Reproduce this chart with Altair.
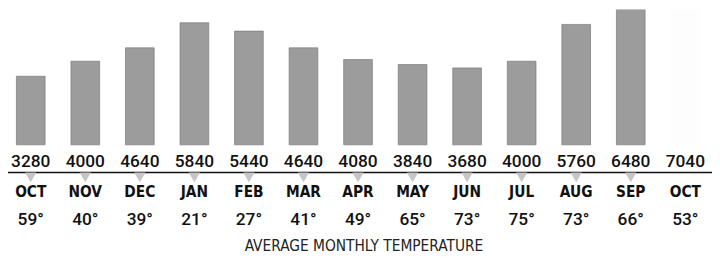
import altair as alt
import pandas as pd

months = ["OCT", "NOV", "DEC", "JAN", "FEB", "MAR", "APR", "MAY", "JUN", "JUL", "AUG", "SEP", "OCT"]
values = [3280, 4000, 4640, 5840, 5440, 4640, 4080, 3840, 3680, 4000, 5760, 6480, 7040]
temps = [59, 40, 39, 21, 27, 41, 49, 65, 73, 75, 73, 66, 53]
title_text = "AVERAGE MONTHLY TEMPERATURE"

df = pd.DataFrame({
    "idx": list(range(len(months))),
    "month": months,
    "value": values,
    "vlabel": [str(v) for v in values],
    "tlabel": [f"{t}°" for t in temps],
})

NUM_FONT = "Roboto"
NARROW = "DejaVu Sans Condensed, sans-serif"

x = alt.X("idx:Q", scale=alt.Scale(domain=[0, 12], range=[18, 690]), axis=None)

base = alt.Chart(df)

bars = base.mark_bar(width=29, fill="#9c9c9c", stroke="#7a7a7a", strokeWidth=0.7, clip=True).encode(
    x=x,
    y=alt.Y("value:Q", scale=alt.Scale(domain=[0, 6480], range=[137, 0]), axis=None),
    y2=alt.datum(0),
    opacity=alt.condition("datum.idx == 12", alt.value(0.025), alt.value(1)),
)

vals = base.mark_text(font=NUM_FONT, fontSize=17.5, fontWeight=500, color="#111", baseline="middle").encode(
    x=x, y=alt.value(154), text="vlabel:N"
)

line = alt.Chart(pd.DataFrame({"a": [0]})).mark_rule(color="#111", strokeWidth=1.6).encode(
    x=alt.value(0), x2=alt.value(712), y=alt.value(165)
)

tris = base.transform_filter("datum.idx < 12").mark_point(
    shape="triangle-down", filled=True, size=130, color="#c6c6c6", opacity=1
).encode(x=x, y=alt.value(170))

mons = base.mark_text(font=NARROW, fontSize=15.5, fontWeight="bold", color="#111", baseline="middle").encode(
    x=x, y=alt.value(185), text="month:N"
)

tmp = base.mark_text(font=NUM_FONT, fontSize=17.5, fontWeight=500, color="#111", baseline="middle").encode(
    x=x, y=alt.value(213), text="tlabel:N"
)

title = alt.Chart(pd.DataFrame({"a": [0]})).mark_text(
    font=NARROW, fontSize=15.5, color="#222", baseline="middle"
).encode(x=alt.value(360), y=alt.value(239.5), text=alt.value(title_text))

chart = alt.layer(bars, vals, line, tris, mons, tmp, title).properties(
    width=712, height=246, padding=0, autosize=alt.AutoSizeParams(type="none")
).configure_view(stroke=None)

chart.save("out.html", embed_options={"renderer": "svg", "actions": False})
